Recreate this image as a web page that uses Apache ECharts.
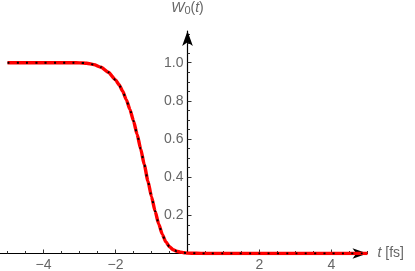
<!DOCTYPE html>
<html><head><meta charset="utf-8">
<script src="https://cdn.jsdelivr.net/npm/echarts@6/dist/echarts.min.js"></script>
<style>html,body{margin:0;padding:0;background:#fff}#c{width:415px;height:271px}</style>
</head><body><div id="c"></div>
<script>
const tVals = [-5,-4.5,-4,-3.5,-3.2,-3,-2.8,-2.6,-2.4,-2.2,-2,-1.9,-1.8,-1.7,-1.6,-1.5,-1.4,-1.3,-1.2,-1.1,-1,-0.9,-0.8,-0.7,-0.6,-0.5,-0.4,-0.3,-0.2,-0.1,0,0.25,0.5,1,2,3,4,5];
const wVals = [1,1,1,1,1,0.999,0.997,0.990,0.976,0.950,0.910,0.884,0.850,0.806,0.755,0.695,0.625,0.548,0.465,0.380,0.298,0.222,0.155,0.100,0.060,0.035,0.020,0.012,0.007,0.004,0.002,0.001,0,0,0,0,0,0];
const xLabelTicks = [-4,-2,2,4];
const xMinorTicks = [-5,-4.5,-3.5,-3,-2.5,-1.5,-1,-0.5,0.5,1,1.5,2.5,3,3.5,4.5,5];
const yLabelTicks = [0.2,0.4,0.6,0.8,1.0];
const yMinorTicks = [0.05,0.1,0.15,0.25,0.3,0.35,0.45,0.5,0.55,0.65,0.7,0.75,0.85,0.9,0.95,1.05,1.1,1.15];

const pts = tVals.map((t,i)=>[t,wVals[i]]);
const FONT = 'Liberation Sans';
const LBL = '#666';
const FS = 14;
const X_MIN = -5.2, X_MAX = 5;
const Y_MIN = 0, Y_MAX = 1.166;
const G_LEFT = 0.3, G_RIGHT = 47.5, W = 415;
const gridW = W - G_LEFT - G_RIGHT;
const yOff = -(0 - X_MIN) / (X_MAX - X_MIN) * gridW;
const chart = echarts.init(document.getElementById('c'), null, {renderer:'canvas'});
chart.setOption({
  animation:false,
  grid:{left:G_LEFT, right:G_RIGHT, top:31, bottom:17.5, containLabel:false, outerBoundsMode:'none'},
  xAxis:[{
    type:'value', min:X_MIN, max:X_MAX, position:'bottom',
    axisLine:{onZero:true, lineStyle:{color:'#000', width:1.2}, symbol:['none','arrow'], symbolSize:[8,15]},
    axisTick:{inside:true, length:4, customValues:xLabelTicks, lineStyle:{color:'#333', width:1}},
    axisLabel:{customValues:xLabelTicks, margin:5, color:LBL, fontSize:FS, fontFamily:FONT,
      formatter:v=>(v<0?'\u2212':'')+Math.abs(v)},
    splitLine:{show:false},
    name:'{i|t} [fs]', nameLocation:'end', nameGap:10,
    nameTextStyle:{color:LBL, fontSize:FS, fontFamily:FONT, align:'left', verticalAlign:'middle',
      rich:{i:{fontStyle:'italic', color:LBL, fontSize:FS, fontFamily:FONT}}}
  },{
    type:'value', min:X_MIN, max:X_MAX, position:'bottom',
    axisLine:{show:false, onZero:true},
    axisTick:{inside:true, length:2.5, customValues:xMinorTicks, lineStyle:{color:'#333', width:1}},
    axisLabel:{show:false},
    splitLine:{show:false}
  }],
  yAxis:[{
    type:'value', min:Y_MIN, max:Y_MAX, position:'left', offset:yOff,
    axisLine:{onZero:false, lineStyle:{color:'#000', width:1.2}, symbol:['none','arrow'], symbolSize:[8,15]},
    axisTick:{inside:true, length:4, customValues:yLabelTicks, lineStyle:{color:'#333', width:1}},
    axisLabel:{customValues:yLabelTicks, margin:4, color:LBL, fontSize:FS, fontFamily:FONT,
      formatter:v=>v.toFixed(1)},
    splitLine:{show:false},
    name:'{i|W}{s|0}({i|t})', nameLocation:'end', nameGap:15,
    nameTextStyle:{color:LBL, fontSize:FS, fontFamily:FONT, align:'center',
      rich:{i:{fontStyle:'italic', color:LBL, fontSize:FS, fontFamily:FONT},
            s:{color:LBL, fontSize:11, fontFamily:FONT, verticalAlign:'bottom', padding:[5,0,0,0]}}}
  },{
    type:'value', min:Y_MIN, max:Y_MAX, position:'left', offset:yOff,
    axisLine:{show:false, onZero:false},
    axisTick:{inside:true, length:2.5, customValues:yMinorTicks, lineStyle:{color:'#333', width:1}},
    axisLabel:{show:false},
    splitLine:{show:false}
  }],
  series:[{
    type:'line', xAxisIndex:0, yAxisIndex:0, data:pts, showSymbol:false, smooth:0.2, smoothMonotone:'x',
    lineStyle:{color:'#ff0000', width:3.4}, z:3
  },{
    type:'line', xAxisIndex:0, yAxisIndex:0, data:pts, showSymbol:false, smooth:0.2, smoothMonotone:'x',
    lineStyle:{color:'#000', width:2, type:[2,7.3], cap:'butt'}, z:4
  }]
});
</script></body></html>
